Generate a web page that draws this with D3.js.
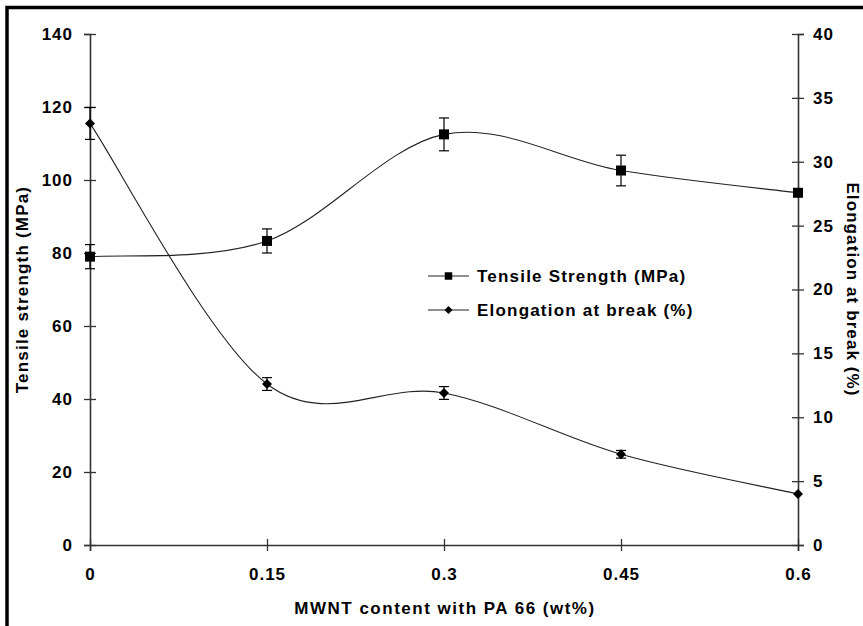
<!DOCTYPE html>
<html>
<head>
<meta charset="utf-8">
<script src="https://cdn.jsdelivr.net/npm/d3@7"></script>
<style>
  body { margin: 0; background: #fff; }
  svg text { font-family: "Liberation Sans", Arial, sans-serif; font-weight: bold; fill: #000; }
</style>
</head>
<body>
<div id="chart"></div>
<script>
// values
const mwnt = [0, 0.15, 0.3, 0.45, 0.6];
const tensile = [79, 83.3, 112.5, 102.6, 96.5];
const tensileErr = [3.3, 3.3, 4.5, 4.2, 0];
const elongation = [33, 12.6, 11.9, 7.1, 4.0];
const elongationErr = [1.25, 0.5, 0.5, 0.3, 0];

const xTicks = [0, 0.15, 0.3, 0.45, 0.6];
const leftTicks = [0, 20, 40, 60, 80, 100, 120, 140];
const rightTicks = [0, 5, 10, 15, 20, 25, 30, 35, 40];

const width = 863;
const height = 626;
const plot = { left: 90, right: 798, top: 34, bottom: 545 };

const svg = d3.select('#chart')
  .append('svg')
  .attr('width', width)
  .attr('height', height);

// frame of the original figure (only top and left edges are in view)
svg.append('rect')
  .attr('x', 7)
  .attr('y', 7.5)
  .attr('width', width + 20)
  .attr('height', height + 20)
  .attr('fill', 'none')
  .attr('stroke', '#000')
  .attr('stroke-width', 3.5);

const x = d3.scaleLinear().domain([0, 0.6]).range([plot.left, plot.right]);
const yLeft = d3.scaleLinear().domain([0, 140]).range([plot.bottom, plot.top]);
const yRight = d3.scaleLinear().domain([0, 40]).range([plot.bottom, plot.top]);

const axisColor = '#333';

function styleAxis(g) {
  g.select('.domain').attr('stroke', axisColor).attr('stroke-width', 1.6);
  g.selectAll('.tick line').attr('stroke', axisColor).attr('stroke-width', 1.3);
  g.selectAll('.tick text')
    .attr('font-size', 17)
    .attr('letter-spacing', 1)
    .style('font-family', '"Liberation Sans", Arial, sans-serif')
    .style('font-weight', 'bold');
}

const gx = svg.append('g')
  .attr('transform', `translate(0, ${plot.bottom})`)
  .call(d3.axisBottom(x).tickValues(xTicks).tickFormat(d => String(d))
    .tickSizeOuter(0).tickSize(6).tickPadding(17));
gx.selectAll('.tick line').attr('y1', -6);
styleAxis(gx);

const gl = svg.append('g')
  .attr('transform', `translate(${plot.left}, 0)`)
  .call(d3.axisLeft(yLeft).tickValues(leftTicks).tickSizeOuter(0).tickSize(6).tickPadding(11));
gl.selectAll('.tick line').attr('x1', 6);
styleAxis(gl);

const gr = svg.append('g')
  .attr('transform', `translate(${plot.right}, 0)`)
  .call(d3.axisRight(yRight).tickValues(rightTicks).tickSizeOuter(0).tickSize(6).tickPadding(9));
gr.selectAll('.tick line').attr('x1', -6);
styleAxis(gr);

// axis titles
svg.append('text')
  .attr('transform', `translate(28, ${(plot.top + plot.bottom) / 2}) rotate(-90)`)
  .attr('text-anchor', 'middle')
  .attr('font-size', 17)
  .attr('letter-spacing', 1.2)
  .text('Tensile strength (MPa)');

svg.append('text')
  .attr('transform', `translate(847, ${(plot.top + plot.bottom) / 2}) rotate(90)`)
  .attr('text-anchor', 'middle')
  .attr('font-size', 17)
  .attr('letter-spacing', 1.1)
  .text('Elongation at break (%)');

svg.append('text')
  .attr('x', 445)
  .attr('y', 614)
  .attr('text-anchor', 'middle')
  .attr('font-size', 17)
  .attr('letter-spacing', 1.5)
  .text('MWNT content with PA 66 (wt%)');

// spreadsheet-style smoothing: bezier with 1/6 neighbour tangents,
// end points repeated as phantom neighbours
function smoothPath(pts) {
  const p = d3.path();
  const n = pts.length;
  const at = i => pts[Math.max(0, Math.min(n - 1, i))];
  p.moveTo(pts[0][0], pts[0][1]);
  for (let i = 0; i < n - 1; i++) {
    const a = at(i - 1), b = at(i), c = at(i + 1), d = at(i + 2);
    p.bezierCurveTo(
      b[0] + (c[0] - a[0]) / 6, b[1] + (c[1] - a[1]) / 6,
      c[0] - (d[0] - b[0]) / 6, c[1] - (d[1] - b[1]) / 6,
      c[0], c[1]);
  }
  return p.toString();
}

svg.append('path')
  .attr('d', smoothPath(tensile.map((v, i) => [x(mwnt[i]), yLeft(v)])))
  .attr('fill', 'none')
  .attr('stroke', '#222')
  .attr('stroke-width', 1.1);

svg.append('path')
  .attr('d', smoothPath(elongation.map((v, i) => [x(mwnt[i]), yRight(v)])))
  .attr('fill', 'none')
  .attr('stroke', '#222')
  .attr('stroke-width', 1.1);

// error bars
function errorBars(values, errs, scale) {
  const g = svg.append('g').attr('stroke', '#000').attr('stroke-width', 1.2);
  values.forEach((v, i) => {
    if (!errs[i]) return;
    const cx = x(mwnt[i]);
    const top = scale(v + errs[i]);
    const bot = scale(v - errs[i]);
    g.append('line').attr('x1', cx).attr('x2', cx).attr('y1', top).attr('y2', bot);
    g.append('line').attr('x1', cx - 5).attr('x2', cx + 5).attr('y1', top).attr('y2', top);
    g.append('line').attr('x1', cx - 5).attr('x2', cx + 5).attr('y1', bot).attr('y2', bot);
  });
}
errorBars(tensile, tensileErr, yLeft);
errorBars(elongation, elongationErr, yRight);

// markers
const squareSym = d3.symbol().type(d3.symbolSquare);
const diamondPath = s => `M0,${-s}L${s},0L0,${s}L${-s},0Z`;

svg.selectAll('.ts-dot')
  .data(tensile)
  .enter()
  .append('path')
  .attr('class', 'ts-dot')
  .attr('d', squareSym.size(100)())
  .attr('transform', (d, i) => `translate(${x(mwnt[i])}, ${yLeft(d)})`)
  .attr('fill', '#000');

svg.selectAll('.el-dot')
  .data(elongation)
  .enter()
  .append('path')
  .attr('class', 'el-dot')
  .attr('d', diamondPath(5))
  .attr('transform', (d, i) => `translate(${x(mwnt[i])}, ${yRight(d)})`)
  .attr('fill', '#000');

// legend
const legendItems = [
  { label: 'Tensile Strength (MPa)', y: 276, marker: squareSym.size(56)() },
  { label: 'Elongation at break (%)', y: 310, marker: diamondPath(4) },
];
const legend = svg.append('g');
legendItems.forEach(item => {
  legend.append('line')
    .attr('x1', 428).attr('x2', 469)
    .attr('y1', item.y).attr('y2', item.y)
    .attr('stroke', '#222').attr('stroke-width', 1.2);
  legend.append('path')
    .attr('d', item.marker)
    .attr('transform', `translate(448.5, ${item.y})`)
    .attr('fill', '#000');
  legend.append('text')
    .attr('x', 477)
    .attr('y', item.y + 6)
    .attr('font-size', 17)
    .attr('letter-spacing', 1.2)
    .text(item.label);
});
</script>
</body>
</html>
